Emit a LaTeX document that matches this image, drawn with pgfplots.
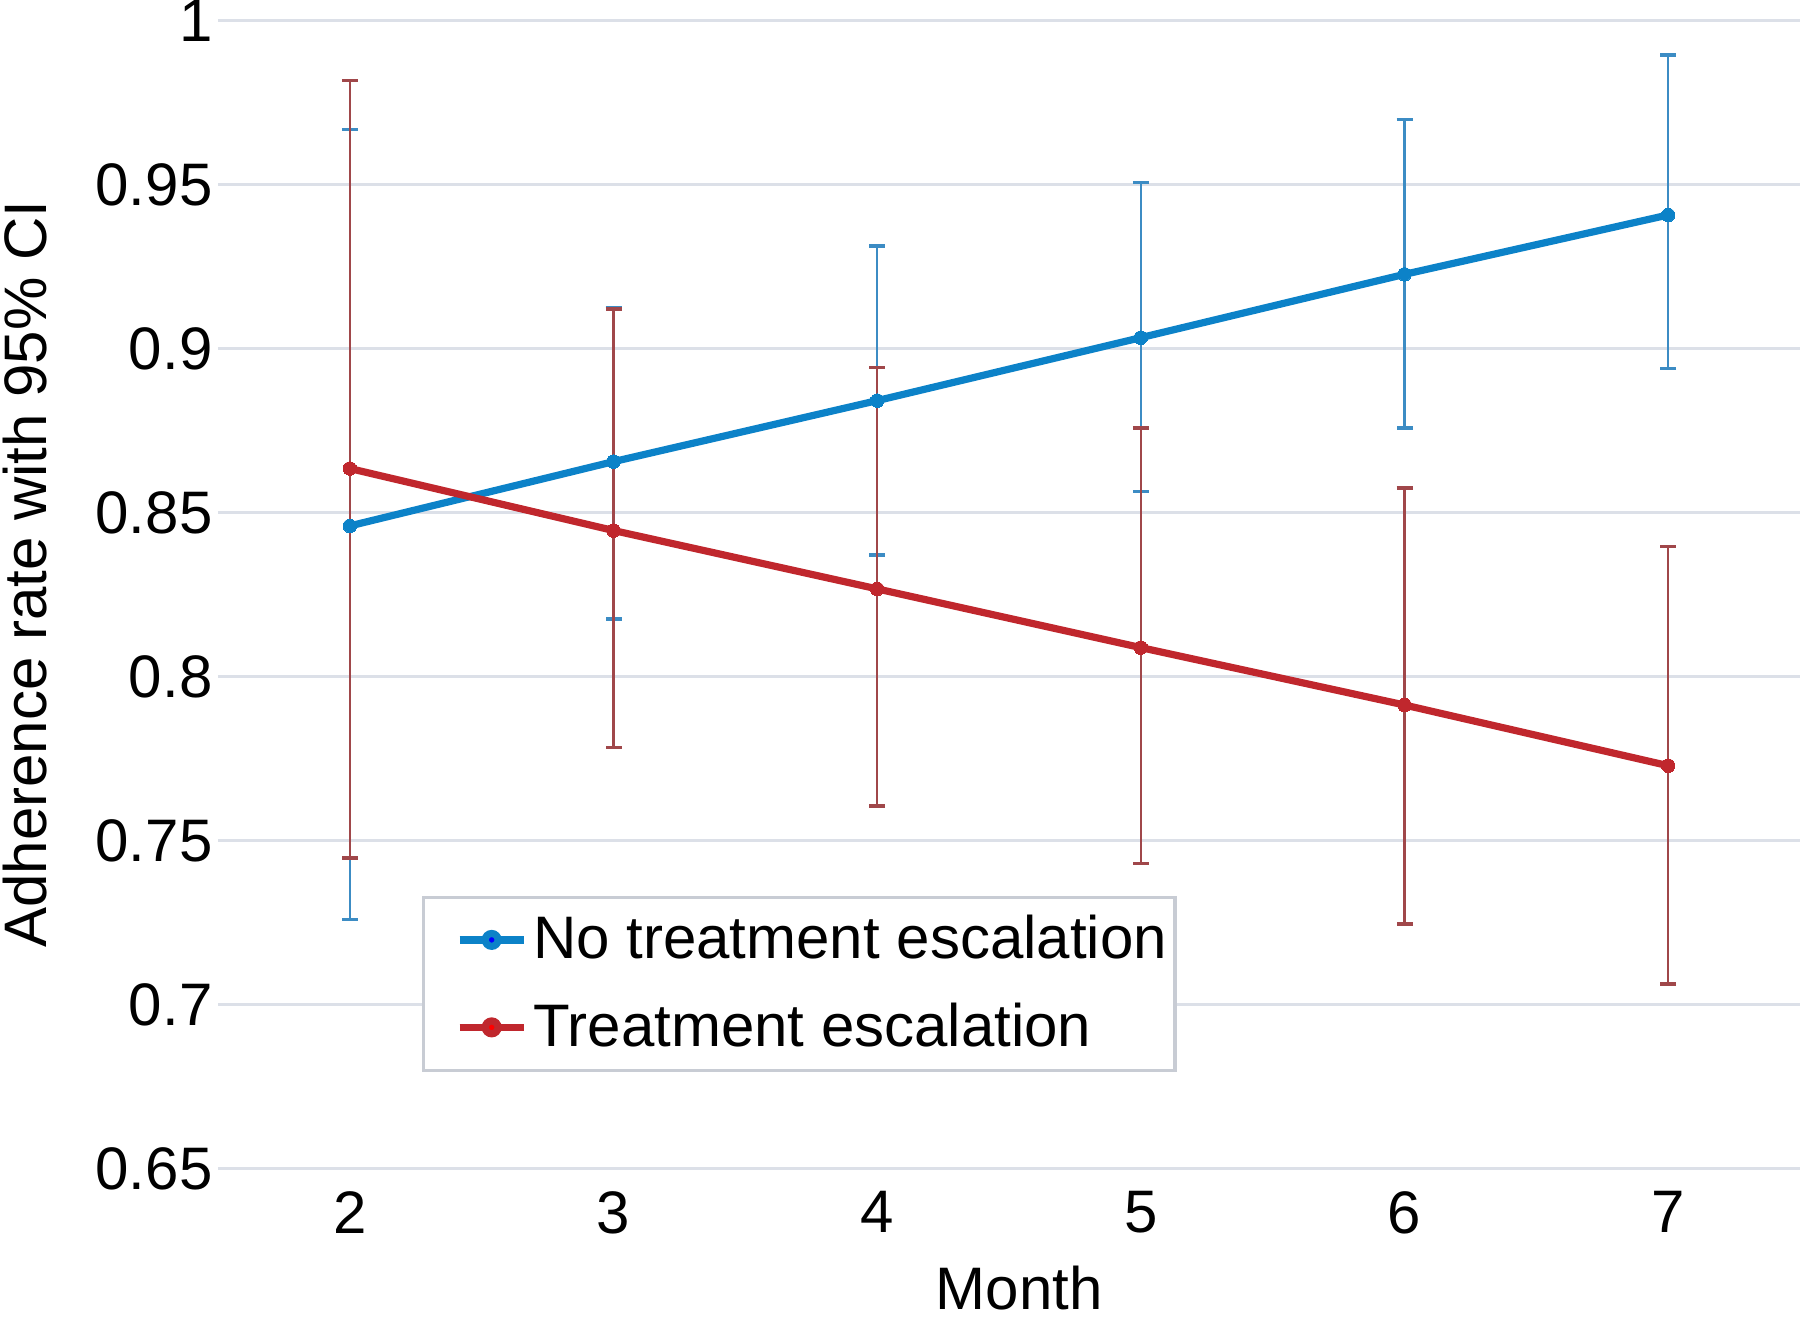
\documentclass[border=0pt]{standalone}
\usepackage{pgfplots}
\pgfplotsset{compat=1.18}
\usepackage{pgfplotstable}
\usepackage{fontspec}
\setmainfont{Liberation Sans}
\definecolor{blueL}{RGB}{12,130,200}
\definecolor{blueE}{RGB}{60,140,196}
\definecolor{redL}{RGB}{192,39,45}
\definecolor{redE}{RGB}{160,71,74}
\definecolor{gridc}{RGB}{220,224,232}
\definecolor{legc}{RGB}{200,204,212}
\pgfplotstableread{
x y ep em
2 0.8460 0.1208 0.1200
3 0.8656 0.0469 0.0480
4 0.8842 0.0472 0.0470
5 0.9034 0.0473 0.0469
6 0.9227 0.0472 0.0469
7 0.9408 0.0487 0.0468
}\noesc
\pgfplotstableread{
x y ep em
2 0.8635 0.1183 0.1187
3 0.8446 0.0676 0.0661
4 0.8268 0.0675 0.0662
5 0.8089 0.0669 0.0658
6 0.7914 0.0662 0.0668
7 0.7729 0.0668 0.0666
}\esc
\begin{document}
\begin{tikzpicture}
\begin{axis}[
  at={(54.5pt,37.3pt)}, anchor=south west,
  scale only axis, width=395.5pt, height=287pt,
  xmin=1.5, xmax=7.5, ymin=0.65, ymax=1,
  xtick={2,3,4,5,6,7},
  ytick={0.65,0.7,0.75,0.8,0.85,0.9,0.95,1},
  axis lines*=left,
  axis line style={draw=none},
  major tick length=0pt,
  ymajorgrids, grid style={color=gridc, line width=0.7pt},
  /pgf/number format/assume math mode=true,
  tick label style={font=\fontsize{15}{18}\selectfont},
  yticklabel style={inner sep=0pt, xshift=-1.2pt},
  xticklabel style={inner sep=0pt, yshift=-5.5pt},
  label style={font=\fontsize{15}{18}\selectfont},
  xlabel={Month},
  xlabel style={at={(axis description cs:0.5065,0)}, anchor=north, inner sep=0pt, yshift=-24pt},
  ylabel={Adherence rate with 95\% CI},
  ylabel style={at={(axis description cs:-0.122,0.518)}, anchor=center, inner sep=0pt},
  legend style={at={(axis description cs:0.129,0.238)}, anchor=north west,
    draw=legc, line width=0.8pt, font=\fontsize{15}{18}\selectfont,
    inner xsep=1pt, inner ysep=3.5pt, row sep=7.5pt, cells={anchor=west},
    nodes={inner sep=1pt}},
  legend image code/.code={
    \path[draw=none, fill=none] (0pt,0pt) -- (25.4pt,0pt);
    \draw[#1, line width=1.8pt] (8pt,0pt) -- (24pt,0pt);
    \fill[#1] (16pt,0pt) circle (1.6pt);
  },
]
\addplot+[draw=blueL, line width=1.8pt, mark=*, mark size=1.7pt,
  mark options={fill=blueL, draw=blueL, line width=0pt},
  error bars/.cd, y dir=both, y explicit,
  error bar style={color=blueE, line width=0.55pt},
  error mark options={rotate=90, mark size=2pt, line width=0.9pt, color=blueE}]
  table[x=x, y=y, y error plus=ep, y error minus=em]{\noesc};
\addlegendentry{No treatment escalation}
\addplot+[draw=redL, line width=1.8pt, mark=*, mark size=1.7pt,
  mark options={fill=redL, draw=redL, line width=0pt},
  error bars/.cd, y dir=both, y explicit,
  error bar style={color=redE, line width=0.55pt},
  error mark options={rotate=90, mark size=2pt, line width=0.9pt, color=redE}]
  table[x=x, y=y, y error plus=ep, y error minus=em]{\esc};
\addlegendentry{Treatment escalation}
\end{axis}
\pgfresetboundingbox
\path[use as bounding box] (0pt,0pt) rectangle (450pt,329.5pt);
\end{tikzpicture}
\end{document}
